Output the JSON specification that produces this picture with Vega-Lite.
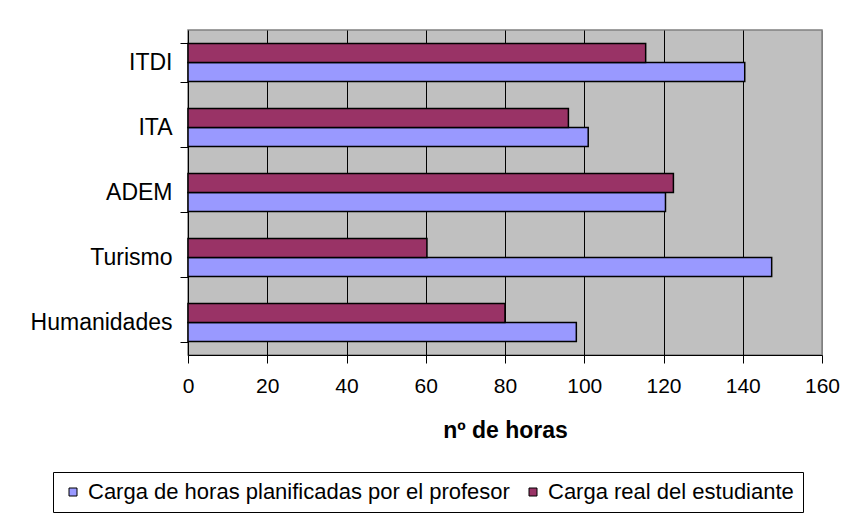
{
  "$schema": "https://vega.github.io/schema/vega-lite/v6.json",
  "width": 634,
  "height": 325,
  "autosize": {"type": "none"},
  "padding": {"left": 188, "top": 30, "right": 28, "bottom": 161},
  "background": "white",
  "config": {
    "font": "Liberation Sans",
    "view": {"fill": "#C0C0C0", "stroke": "#808080", "strokeWidth": 1.5}
  },
  "data": {
    "values": [
      {"cat": "ITDI", "serie": "Carga de horas planificadas por el profesor", "horas": 140.5},
      {"cat": "ITDI", "serie": "Carga real del estudiante", "horas": 115.5},
      {"cat": "ITA", "serie": "Carga de horas planificadas por el profesor", "horas": 101},
      {"cat": "ITA", "serie": "Carga real del estudiante", "horas": 96},
      {"cat": "ADEM", "serie": "Carga de horas planificadas por el profesor", "horas": 120.5},
      {"cat": "ADEM", "serie": "Carga real del estudiante", "horas": 122.5},
      {"cat": "Turismo", "serie": "Carga de horas planificadas por el profesor", "horas": 147.3},
      {"cat": "Turismo", "serie": "Carga real del estudiante", "horas": 60.3},
      {"cat": "Humanidades", "serie": "Carga de horas planificadas por el profesor", "horas": 98},
      {"cat": "Humanidades", "serie": "Carga real del estudiante", "horas": 80}
    ]
  },
  "mark": {"type": "bar", "stroke": "black", "strokeWidth": 1.5},
  "encoding": {
    "y": {
      "field": "cat",
      "type": "nominal",
      "sort": ["ITDI", "ITA", "ADEM", "Turismo", "Humanidades"],
      "scale": {"paddingInner": 0.415, "paddingOuter": 0.2075},
      "axis": {
        "title": null,
        "tickBand": "extent",
        "tickSize": 8,
        "tickColor": "black",
        "domainColor": "black",
        "labelFontSize": 23,
        "labelColor": "black",
        "labelPadding": 8,
        "labelLimit": 0,
        "grid": false
      }
    },
    "yOffset": {
      "field": "serie",
      "sort": ["Carga real del estudiante", "Carga de horas planificadas por el profesor"],
      "scale": {"paddingInner": 0, "paddingOuter": 0}
    },
    "x": {
      "field": "horas",
      "type": "quantitative",
      "scale": {"domain": [0, 160], "nice": false},
      "axis": {
        "values": [0, 20, 40, 60, 80, 100, 120, 140, 160],
        "title": "nº de horas",
        "titleFontSize": 23,
        "titleFontWeight": "bold",
        "titleColor": "black",
        "titlePadding": 23,
        "labelFontSize": 21,
        "labelColor": "black",
        "labelPadding": 12,
        "labelFlush": false,
        "tickSize": 8,
        "tickColor": "black",
        "domainColor": "black",
        "grid": true,
        "gridColor": {"condition": {"test": "datum.value === 160 || datum.value === 0", "value": "#808080"}, "value": "black"},
        "gridOpacity": 1
      }
    },
    "color": {
      "field": "serie",
      "type": "nominal",
      "scale": {
        "domain": ["Carga de horas planificadas por el profesor", "Carga real del estudiante"],
        "range": ["#9999FF", "#993366"]
      },
      "legend": {
        "orient": "none",
        "legendX": -135,
        "legendY": 442,
        "direction": "horizontal",
        "title": null,
        "symbolType": "square",
        "symbolSize": 64,
        "symbolStrokeColor": "black",
        "symbolStrokeWidth": 1,
        "symbolOpacity": 1,
        "labelFontSize": 22,
        "labelColor": "black",
        "labelLimit": 0,
        "labelOffset": 4,
        "columnPadding": 12,
        "strokeColor": "black",
        "padding": 9
      }
    }
  }
}
